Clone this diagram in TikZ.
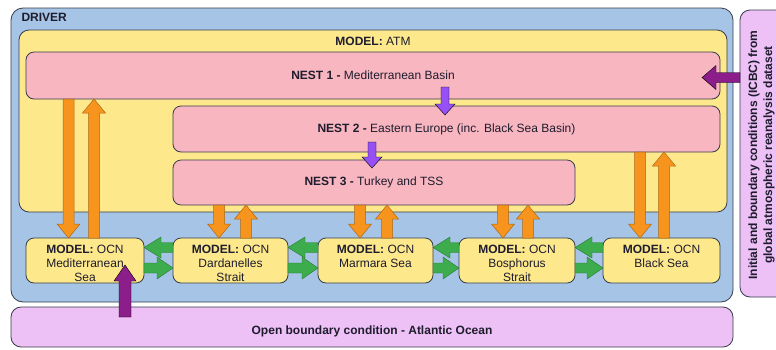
\documentclass[tikz,border=0pt]{standalone}
\usepackage{fontspec}
\setmainfont{Liberation Sans}
\usetikzlibrary{calc}
\definecolor{cblue}{RGB}{166,196,230}
\definecolor{cyellow}{RGB}{253,232,140}
\definecolor{cpink}{RGB}{248,182,192}
\definecolor{clav}{RGB}{237,192,246}
\definecolor{corange}{RGB}{247,148,29}
\definecolor{cgreen}{RGB}{60,172,76}
\definecolor{cpurple}{RGB}{140,30,140}
\definecolor{cviolet}{RGB}{150,80,245}
\definecolor{cline}{RGB}{55,60,75}
\definecolor{ctext}{RGB}{30,28,45}
% block arrow: #1 style, #2 from, #3 to, #4 shaft half width, #5 head half width, #6 head length
\newcommand\blockarrow[6]{%
  \coordinate (ba) at #2;
  \coordinate (bb) at #3;
  \coordinate (bc) at ($(bb)!#6!(ba)$);
  \draw[#1] ($(ba)!#4!90:(bb)$) -- ($(bc)!#4!90:(bb)$) -- ($(bc)!#5!90:(bb)$) -- (bb)
    -- ($(bc)!#5!-90:(bb)$) -- ($(bc)!#4!-90:(bb)$) -- ($(ba)!#4!-90:(bb)$) -- cycle;
}
\begin{document}
\begin{tikzpicture}[x=1pt,y=-1pt,
  every node/.style={inner sep=0pt, outer sep=0pt},
  box/.style={draw=cline, line width=0.8pt, rounded corners=#1},
  box/.default=7pt,
  txt/.style={font=\fontsize{12}{14}\selectfont, text=ctext, align=center},
  orangearrow/.style={fill=corange, draw=corange!70!black, line width=0.5pt},
  greenarrow/.style={fill=cgreen, draw=cgreen!70!black, line width=0.4pt},
  purplearrow/.style={fill=cpurple},
  violetarrow/.style={fill=cviolet}]
\useasboundingbox (0,0) rectangle (776,349);
\clip (0,0) rectangle (776,349);
\fill[white] (0,0) rectangle (776,349);

% containers
\node[box=12pt, fill=cblue, minimum width=722pt, minimum height=294pt] (driver) at (372,155) {};
\node[box=10pt, fill=clav, minimum width=50pt, minimum height=287pt] (icbc) at (765,153.5) {};
\node[box=10pt, fill=clav, minimum width=722pt, minimum height=40pt] (obc) at (372,327) {};
\node[box=10pt, fill=cyellow, minimum width=708pt, minimum height=182pt] (atm) at (373,121) {};

% nests
\node[box=8pt, fill=cpink, minimum width=694pt, minimum height=47pt] (nest1) at (373,75.5) {};
\node[box=8pt, fill=cpink, minimum width=547pt, minimum height=46pt] (nest2) at (446.5,129) {};
\node[box=8pt, fill=cpink, minimum width=402pt, minimum height=45pt] (nest3) at (374,182.5) {};

% ocean models
\node[box=8pt, fill=cyellow, minimum width=118pt, minimum height=45pt] (med) at (85,260.5) {};
\node[box=8pt, fill=cyellow, minimum width=115pt, minimum height=45pt] (dard) at (230.5,260.5) {};
\node[box=8pt, fill=cyellow, minimum width=115pt, minimum height=45pt] (marm) at (375.5,260.5) {};
\node[box=8pt, fill=cyellow, minimum width=116pt, minimum height=45pt] (bosp) at (517,260.5) {};
\node[box=8pt, fill=cyellow, minimum width=117pt, minimum height=45pt] (black) at (661.5,260.5) {};

% texts
\node[txt, anchor=base west] (drivertxt) at (21.5,21.7) {\textbf{DRIVER}};
\node[txt] (atmtxt) at (373,41.7) {\textbf{MODEL:} ATM};
\node[txt] (n1txt) at (nest1.center) {\textbf{NEST 1 -} Mediterranean Basin};
\node[txt] (n2txt) at (nest2.center) {\textbf{NEST 2 -} Eastern Europe (inc. Black Sea Basin)};
\node[txt] (n3txt) at (nest3.center) {\textbf{NEST 3 -} Turkey and TSS};
\node[txt, anchor=north] (medtxt) at (85,245.4) {\textbf{MODEL:} OCN\\Mediterranean\\Sea};
\node[txt, anchor=north] (dardtxt) at (230.5,245.4) {\textbf{MODEL:} OCN\\Dardanelles\\Strait};
\node[txt, anchor=north] (marmtxt) at (375.5,245.4) {\textbf{MODEL:} OCN\\Marmara Sea};
\node[txt, anchor=north] (bosptxt) at (517,245.4) {\textbf{MODEL:} OCN\\Bosphorus\\Strait};
\node[txt, anchor=north] (blacktxt) at (661.5,245.4) {\textbf{MODEL:} OCN\\Black Sea};
\node[txt, anchor=base] (obctxt) at (372,334.5) {\textbf{Open boundary condition - Atlantic Ocean}};
\node[txt, font=\fontsize{12}{15}\selectfont\bfseries, rotate=90] (icbctxt) at (761.5,155)
  {Initial and boundary conditions (ICBC) from\\global atmospheric reanalysis dataset};

% helper coordinates
\coordinate (xa) at (68.5,0); \coordinate (xb) at (94,0);
\coordinate (xc) at (640,0); \coordinate (xd) at (664,0);
\coordinate (xe) at (219,0); \coordinate (xf) at (246,0);
\coordinate (xg) at (360,0); \coordinate (xh) at (387,0);
\coordinate (xi) at (503,0); \coordinate (xj) at (528,0);
\coordinate (yu) at (0,247.5); \coordinate (yd) at (0,268);

% orange coupling arrows
\blockarrow{orangearrow}{(nest1.south -| xa)}{(med.north -| xa)}{5.5pt}{11.5pt}{14pt}
\blockarrow{orangearrow}{(med.north -| xb)}{(nest1.south -| xb)}{5.5pt}{11.5pt}{14pt}
\blockarrow{orangearrow}{(nest2.south -| xc)}{(black.north -| xc)}{5.5pt}{11.5pt}{14pt}
\blockarrow{orangearrow}{(black.north -| xd)}{(nest2.south -| xd)}{5.5pt}{11.5pt}{14pt}
\blockarrow{orangearrow}{(nest3.south -| xe)}{(dard.north -| xe)}{5.5pt}{11.5pt}{14pt}
\blockarrow{orangearrow}{(dard.north -| xf)}{(nest3.south -| xf)}{5.5pt}{11.5pt}{14pt}
\blockarrow{orangearrow}{(nest3.south -| xg)}{(marm.north -| xg)}{5.5pt}{11.5pt}{14pt}
\blockarrow{orangearrow}{(marm.north -| xh)}{(nest3.south -| xh)}{5.5pt}{11.5pt}{14pt}
\blockarrow{orangearrow}{(nest3.south -| xi)}{(bosp.north -| xi)}{5.5pt}{11.5pt}{14pt}
\blockarrow{orangearrow}{(bosp.north -| xj)}{(nest3.south -| xj)}{5.5pt}{11.5pt}{14pt}

% green exchange arrows
\blockarrow{greenarrow}{(dard.west |- yu)}{(med.east |- yu)}{5pt}{10.5pt}{17pt}
\blockarrow{greenarrow}{(med.east |- yd)}{(dard.west |- yd)}{5pt}{11pt}{16pt}
\blockarrow{greenarrow}{(marm.west |- yu)}{(dard.east |- yu)}{5pt}{10.5pt}{17pt}
\blockarrow{greenarrow}{(dard.east |- yd)}{(marm.west |- yd)}{5pt}{11pt}{16pt}
\blockarrow{greenarrow}{(bosp.west |- yu)}{(marm.east |- yu)}{5pt}{10.5pt}{17pt}
\blockarrow{greenarrow}{(marm.east |- yd)}{(bosp.west |- yd)}{5pt}{11pt}{16pt}
\blockarrow{greenarrow}{(black.west |- yu)}{(bosp.east |- yu)}{5pt}{10.5pt}{17pt}
\blockarrow{greenarrow}{(bosp.east |- yd)}{(black.west |- yd)}{5pt}{11pt}{16pt}

% nesting arrows
\coordinate (v1s) at (445,87); \coordinate (v1e) at (445,115);
\coordinate (v2s) at (372,142); \coordinate (v2e) at (372,168);
\blockarrow{violetarrow}{(v1s)}{(v1e)}{4pt}{10pt}{11pt}
\blockarrow{violetarrow}{(v2s)}{(v2e)}{4pt}{10pt}{11pt}

% boundary forcing arrows
\coordinate (ys) at (0,77.5); \coordinate (icbctip) at (702,77.5);
\blockarrow{purplearrow}{(icbc.west |- ys)}{(icbctip)}{5pt}{12pt}{14pt}
\coordinate (obcsrc) at (125,317); \coordinate (medtip) at (125,265);
\blockarrow{purplearrow}{(obcsrc)}{(medtip)}{6pt}{11pt}{16pt}
\end{tikzpicture}
\end{document}
